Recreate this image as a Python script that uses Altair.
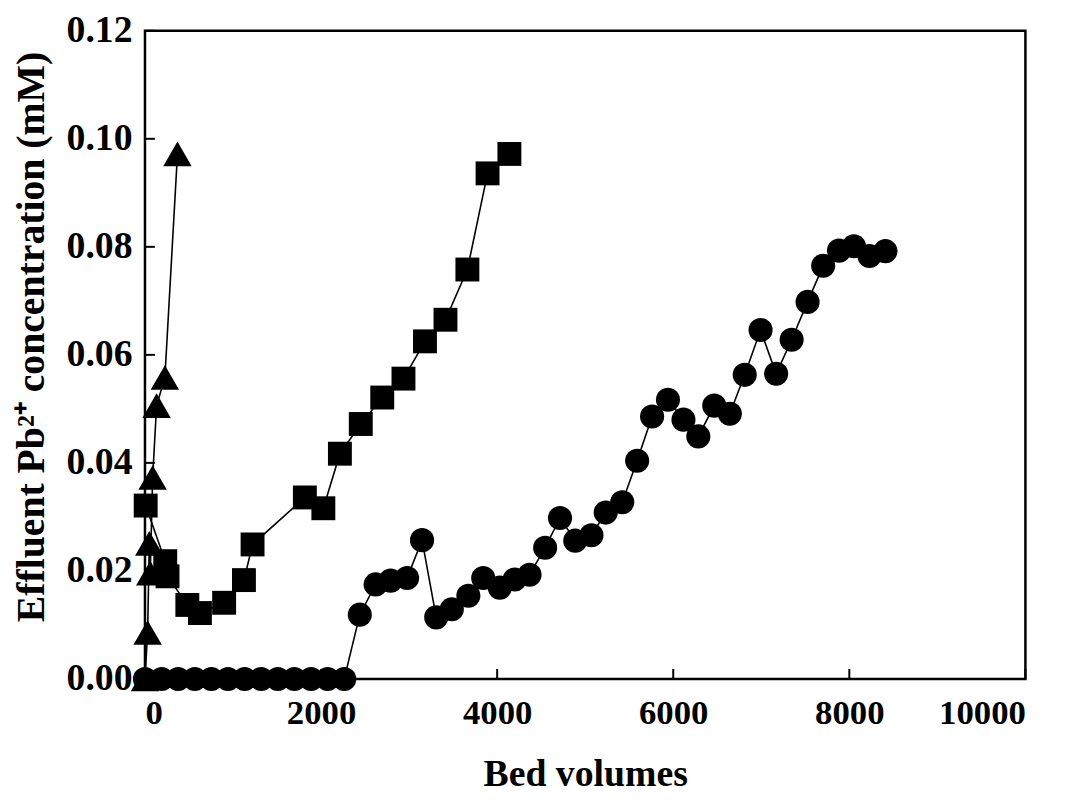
import altair as alt
import pandas as pd

# ---- data ----
tri_x = [0, 30, 49, 60, 87, 132, 226, 369]
tri_y = [0.0, 0.0086, 0.0251, 0.0196, 0.0373, 0.0506, 0.0558, 0.0972]

sq_x = [8, 230, 256, 481, 624, 899, 1124, 1222, 1816, 2026, 2214, 2451,
        2695, 2936, 3180, 3413, 3662, 3891, 4139]
sq_y = [0.0321, 0.0218, 0.0190, 0.0137, 0.0122, 0.0141, 0.0183, 0.0249,
        0.0336, 0.0316, 0.0417, 0.0472, 0.0521, 0.0556, 0.0625, 0.0665,
        0.0758, 0.0936, 0.0972]

circ_x = [0, 189, 377, 566, 754, 943, 1132, 1320, 1509, 1697, 1886, 2075,
          2263, 2440, 2620, 2790, 2977, 3147, 3308, 3485, 3673, 3842, 4030,
          4199, 4368, 4545, 4714, 4887, 5071, 5233, 5421, 5590, 5760, 5940,
          6116, 6285, 6466, 6643, 6812, 6992, 7169, 7345, 7526, 7703, 7883,
          8052, 8229, 8410]
circ_y = [0.0, 0.0, 0.0, 0.0, 0.0, 0.0, 0.0, 0.0, 0.0, 0.0, 0.0, 0.0,
          0.0, 0.0119, 0.0175, 0.0182, 0.0187, 0.0257, 0.0114, 0.0129,
          0.0154, 0.0187, 0.0169, 0.0184, 0.0193, 0.0243, 0.0298, 0.0256,
          0.0266, 0.0308, 0.0327, 0.0404, 0.0486, 0.0517, 0.0480, 0.0449,
          0.0506, 0.0491, 0.0563, 0.0646, 0.0565, 0.0628, 0.0698, 0.0765,
          0.0793, 0.0801, 0.0783, 0.0792]

x_ticks = [0, 2000, 4000, 6000, 8000, 10000]
y_ticks = [0.0, 0.02, 0.04, 0.06, 0.08, 0.10, 0.12]

FONT = "Liberation Serif"
W, H = 887, 653


def frame(xs, ys):
    return pd.DataFrame({"bv": xs, "c": ys, "i": list(range(len(xs)))})


xscale = alt.Scale(domain=[0, 10000], nice=False)
yscale = alt.Scale(domain=[0, 0.12], nice=False)

xenc = alt.X("bv:Q", scale=xscale, axis=alt.Axis(
    values=x_ticks, format="d", title="Bed volumes", ticks=False, domain=False,
    grid=False, labelFont=FONT, labelFontWeight="bold", labelFontSize=35,
    labelPadding=17, labelColor="black",
    titleFont=FONT, titleFontWeight="bold", titleFontSize=38, titleColor="black",
    titleY=96, titleBaseline="middle"))
yenc = alt.Y("c:Q", scale=yscale, axis=alt.Axis(
    values=y_ticks, format=".2f", title="Effluent Pb²⁺ concentration (mM)",
    ticks=False, domain=False, grid=False, labelFont=FONT,
    labelFontWeight="bold", labelFontSize=38, labelPadding=13,
    labelColor="black", titleFont=FONT, titleFontWeight="bold",
    titleFontSize=40, titleColor="black", titleX=-102, titleY=308,
    titleBaseline="alphabetic"))


def series(xs, ys, shape, size):
    df = frame(xs, ys)
    base = alt.Chart(df)
    line = base.mark_line(color="black", strokeWidth=1.6).encode(
        x=xenc, y=yenc, order="i:Q")
    pts = base.mark_point(shape=shape, filled=True, color="black",
                          opacity=1, size=size).encode(x=xenc, y=yenc)
    return [line, pts]


layers = []
layers += series(circ_x, circ_y, "circle", 590)
layers += series(sq_x, sq_y, "square", 580)
layers += series(tri_x, tri_y, "triangle-up", 820)

xt = alt.Chart(pd.DataFrame({"bv": x_ticks})).mark_rule(
    color="black", strokeWidth=2).encode(
    x=alt.X("bv:Q", scale=xscale), y=alt.value(H), y2=alt.value(H - 10))
yt = alt.Chart(pd.DataFrame({"c": y_ticks})).mark_rule(
    color="black", strokeWidth=2).encode(
    y=alt.Y("c:Q", scale=yscale), x=alt.value(0), x2=alt.value(10))

chart = alt.layer(*layers, xt, yt).properties(
    width=W, height=H,
    autosize=alt.AutoSizeParams(type="none"),
    padding={"left": 138, "top": 20, "right": 55, "bottom": 117},
).configure(background="white").configure_view(
    stroke="black", strokeWidth=2.5)

chart.save("out.html", embed_options={"renderer": "svg", "actions": False})
